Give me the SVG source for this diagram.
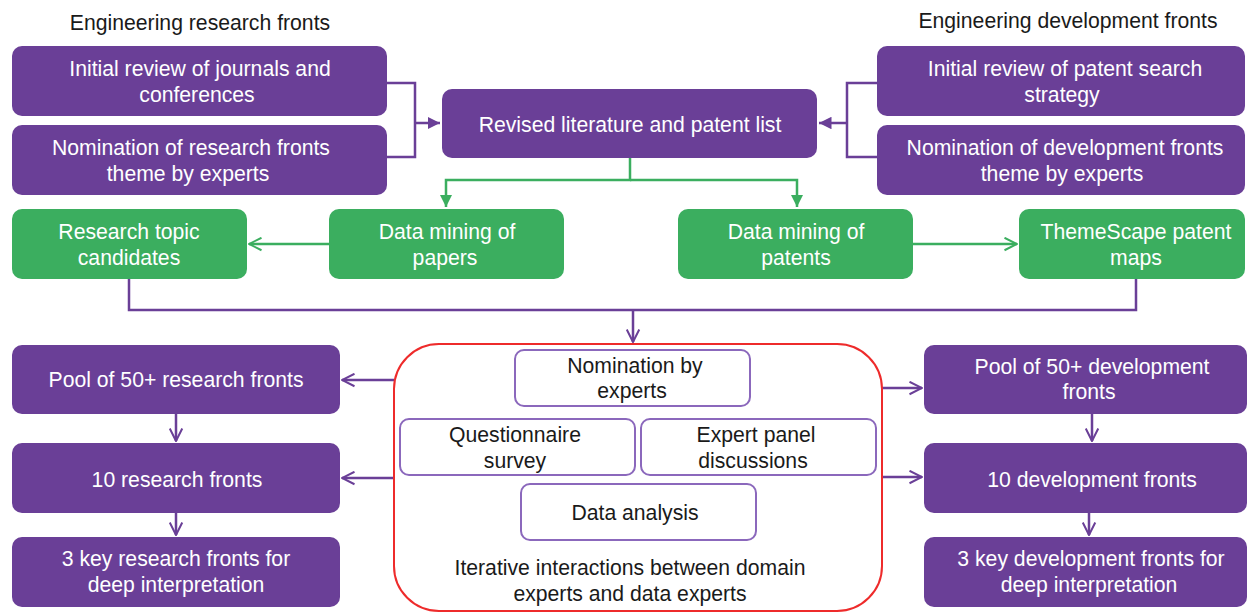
<svg xmlns="http://www.w3.org/2000/svg" width="1247" height="613" viewBox="0 0 1247 613">
<style>
.p{fill:#6A3F97}
.g{fill:#3BAE5F}
.in{fill:#fff;stroke:#8B68BC;stroke-width:2}
text{font-family:"Liberation Sans",Arial,sans-serif;font-size:21.2px;text-anchor:middle}
.w{fill:#fff}
.k{fill:#1a1a1a}
.cp{fill:none;stroke:#6A3F97;stroke-width:2.5}
.cg{fill:none;stroke:#3BAE5F;stroke-width:2.5}
</style>
<defs>
<marker id="tp" viewBox="0 0 10 10" refX="10" refY="5" markerWidth="5" markerHeight="5" orient="auto" markerUnits="strokeWidth"><path d="M0,0L10,5L0,10z" fill="#6A3F97"/></marker>
<marker id="tg" viewBox="0 0 10 10" refX="10" refY="5" markerWidth="5" markerHeight="5" orient="auto" markerUnits="strokeWidth"><path d="M0,0L10,5L0,10z" fill="#3BAE5F"/></marker>
<marker id="op" viewBox="0 0 12 12" refX="11" refY="6" markerWidth="6" markerHeight="6" orient="auto" markerUnits="strokeWidth"><path d="M1,1L11,6L1,11" fill="none" stroke="#6A3F97" stroke-width="1.6"/></marker>
<marker id="og" viewBox="0 0 12 12" refX="11" refY="6" markerWidth="6" markerHeight="6" orient="auto" markerUnits="strokeWidth"><path d="M1,1L11,6L1,11" fill="none" stroke="#3BAE5F" stroke-width="1.6"/></marker>
</defs>
<rect width="1247" height="613" fill="#fff"/>
<text class="k" x="200" y="30">Engineering research fronts</text>
<text class="k" x="1068" y="28">Engineering development fronts</text>

<g id="connectors">
<path class="cp" d="M387,83H415V157H387M415,123H440" marker-end="url(#tp)"/>
<path class="cp" d="M877,83H847V157H877M847,123H819" marker-end="url(#tp)"/>
<path class="cg" d="M630,158V180H446V207" marker-end="url(#tg)"/>
<path class="cg" d="M630,180H797V207" marker-end="url(#tg)"/>
<path class="cg" d="M329,244H249" marker-end="url(#og)"/>
<path class="cg" d="M913,244H1017" marker-end="url(#og)"/>
<path class="cp" d="M129,279V310H1136V279"/>
<path class="cp" d="M633,310V342" marker-end="url(#op)"/>
<path class="cp" d="M394,380H342" marker-end="url(#op)"/>
<path class="cp" d="M394,478H342" marker-end="url(#op)"/>
<path class="cp" d="M882,388H922" marker-end="url(#op)"/>
<path class="cp" d="M882,477H922" marker-end="url(#op)"/>
<path class="cp" d="M176,414V441" marker-end="url(#op)"/>
<path class="cp" d="M176,513V535" marker-end="url(#op)"/>
<path class="cp" d="M1092,414V441" marker-end="url(#op)"/>
<path class="cp" d="M1089,513V535" marker-end="url(#op)"/>
</g>

<g id="journals"><rect class="p" x="12" y="46" width="375" height="70" rx="10"/><text class="w" x="200" y="76">Initial review of journals and</text><text class="w" x="197" y="102">conferences</text></g>
<g id="nomRes"><rect class="p" x="12" y="125" width="375" height="70" rx="10"/><text class="w" x="191" y="155">Nomination of research fronts</text><text class="w" x="188" y="181">theme by experts</text></g>
<g id="revised"><rect class="p" x="442" y="89" width="375" height="69" rx="10"/><text class="w" x="630" y="132">Revised literature and patent list</text></g>
<g id="patentSearch"><rect class="p" x="877" y="46" width="368" height="70" rx="10"/><text class="w" x="1065" y="76">Initial review of patent search</text><text class="w" x="1062" y="102">strategy</text></g>
<g id="nomDev"><rect class="p" x="877" y="125" width="368" height="70" rx="10"/><text class="w" x="1065" y="155">Nomination of development fronts</text><text class="w" x="1062" y="181">theme by experts</text></g>

<g id="rtc"><rect class="g" x="12" y="209" width="235" height="70" rx="10"/><text class="w" x="129" y="239">Research topic</text><text class="w" x="129" y="265">candidates</text></g>
<g id="dmp"><rect class="g" x="329" y="209" width="235" height="70" rx="10"/><text class="w" x="447" y="239">Data mining of</text><text class="w" x="445" y="265">papers</text></g>
<g id="dmpat"><rect class="g" x="678" y="209" width="235" height="70" rx="10"/><text class="w" x="796" y="239">Data mining of</text><text class="w" x="796" y="265">patents</text></g>
<g id="themescape"><rect class="g" x="1019" y="209" width="226" height="70" rx="10"/><text class="w" x="1136" y="239">ThemeScape patent</text><text class="w" x="1136" y="265">maps</text></g>

<g id="iter">
<rect x="394" y="344" width="488" height="267" rx="45" fill="#fff" stroke="#EE2B2B" stroke-width="2"/>
<text class="k" x="630" y="575">Iterative interactions between domain</text>
<text class="k" x="630" y="601">experts and data experts</text>
</g>
<g id="nomExp"><rect class="in" x="515" y="350" width="235" height="56" rx="9"/><text class="k" x="635" y="373">Nomination by</text><text class="k" x="632" y="398">experts</text></g>
<g id="quest"><rect class="in" x="400" y="419" width="235" height="56" rx="9"/><text class="k" x="515" y="442">Questionnaire</text><text class="k" x="515" y="468">survey</text></g>
<g id="panel"><rect class="in" x="641" y="419" width="235" height="56" rx="9"/><text class="k" x="756" y="442">Expert panel</text><text class="k" x="753" y="468">discussions</text></g>
<g id="analysis"><rect class="in" x="521" y="484" width="235" height="56" rx="9"/><text class="k" x="635" y="520">Data analysis</text></g>

<g id="pool50r"><rect class="p" x="12" y="345" width="328" height="69" rx="10"/><text class="w" x="176" y="387">Pool of 50+ research fronts</text></g>
<g id="ten_r"><rect class="p" x="12" y="443" width="328" height="70" rx="10"/><text class="w" x="177" y="487">10 research fronts</text></g>
<g id="key_r"><rect class="p" x="12" y="537" width="328" height="70" rx="10"/><text class="w" x="176" y="566">3 key research fronts for</text><text class="w" x="176" y="592">deep interpretation</text></g>

<g id="pool50d"><rect class="p" x="924" y="345" width="323" height="69" rx="10"/><text class="w" x="1092" y="374">Pool of 50+ development</text><text class="w" x="1089" y="399">fronts</text></g>
<g id="ten_d"><rect class="p" x="924" y="443" width="323" height="70" rx="10"/><text class="w" x="1092" y="487">10 development fronts</text></g>
<g id="key_d"><rect class="p" x="924" y="537" width="323" height="70" rx="10"/><text class="w" x="1091" y="566">3 key development fronts for</text><text class="w" x="1089" y="592">deep interpretation</text></g>
</svg>
